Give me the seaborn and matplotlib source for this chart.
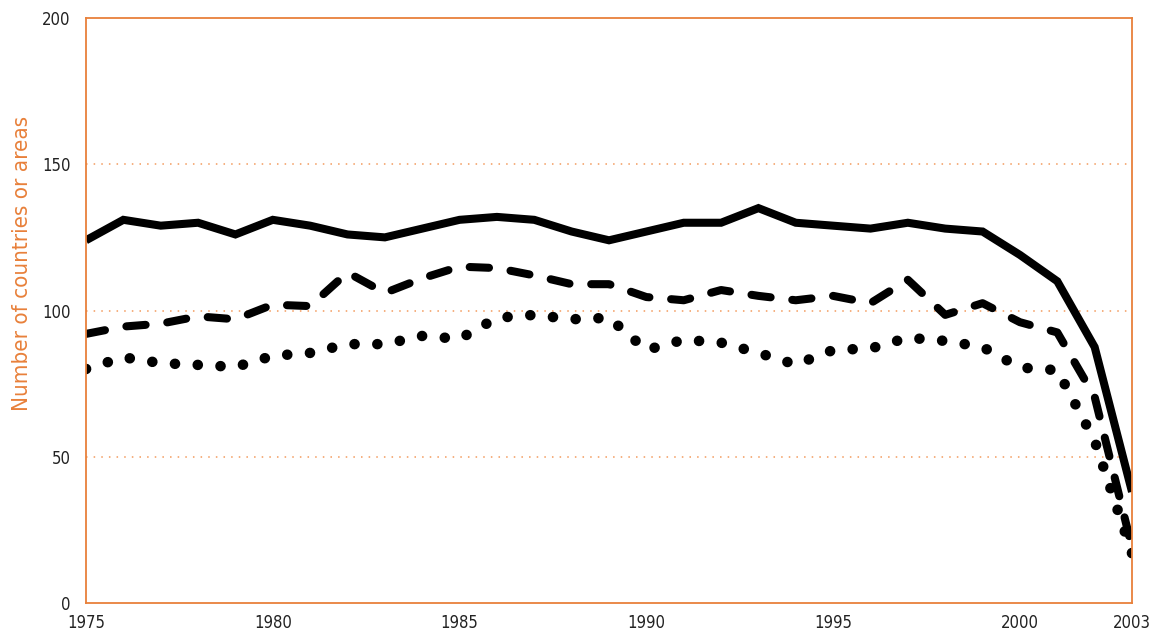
import matplotlib
matplotlib.use("Agg")
import matplotlib.pyplot as plt
import seaborn as sns
import pandas as pd
import numpy as np

years = list(range(1975, 2004))

solid_vals = [124, 131, 129, 130, 126, 131, 129, 126, 125, 128,
              131, 132, 131, 127, 124, 127, 130, 130, 135, 130,
              129, 128, 130, 128, 127, 119, 110, 87.5, 38]
dashed_vals = [92, 94.5, 95.5, 98, 97, 102, 101.5, 113, 106, 111,
               115, 114.5, 112, 109, 109, 104.6, 103.5, 107, 105, 103.5,
               105, 102.5, 110.5, 98.5, 102.5, 96, 92.5, 70.5, 19]
dotted_vals = [80, 84, 82, 81.4, 80.7, 84.5, 85.5, 88.5, 88.5, 91.3,
               90.3, 97.5, 98.5, 97, 97.5, 86.5, 90, 89, 85.5, 81.5,
               86.5, 87, 90.7, 89.6, 87.5, 80.5, 79.6, 55.5, 17]

xtick_labels = [1975, 1980, 1985, 1990, 1995, 2000, 2003]
ytick_vals = [0, 50, 100, 150, 200]

df = pd.DataFrame({"year": years, "solid": solid_vals,
                   "dashed": dashed_vals, "dotted": dotted_vals})

orange = "#e8803a"
light_orange = "#f2b487"

sns.set_style("white")
plt.rcParams["font.family"] = ["DejaVu Sans"]
plt.rcParams["font.stretch"] = "condensed"

fig = plt.figure(figsize=(11.49, 6.33), dpi=100)
ax = fig.add_axes([86 / 1149, 30 / 633, 1046 / 1149, 585 / 633])

lw = 5.8
sns.lineplot(data=df, x="year", y="solid", color="black", linewidth=lw,
             solid_joinstyle="miter", solid_capstyle="butt", ax=ax)
sns.lineplot(data=df, x="year", y="dashed", color="black", linewidth=lw,
             linestyle=(0, (2.4, 2.7)), dash_capstyle="round", ax=ax)
sns.lineplot(data=df, x="year", y="dotted", color="black", linewidth=7.6,
             linestyle=(0, (0.01, 2.15)), dash_capstyle="round", ax=ax)

ax.set_xlim(1975, 2003)
ax.set_ylim(0, 200)

# dotted gridlines
for v in [50, 100, 150]:
    ax.axhline(v, color="#f39a5c", linestyle=(0, (1, 4)), linewidth=1.1, zorder=0)

for sp in ax.spines.values():
    sp.set_color(orange)
    sp.set_linewidth(1.3)

ax.set_xticks(xtick_labels)
ax.set_xticklabels([str(t) for t in xtick_labels], fontsize=12)
ax.set_xticks(years[1:-1], minor=True)
ax.tick_params(axis="x", which="major", length=0, pad=8, colors="#222222")
ax.tick_params(axis="x", which="minor", direction="in", length=12, width=1.6,
               color=light_orange)
ax.set_yticks(ytick_vals)
ax.set_yticklabels([str(v) for v in ytick_vals], fontsize=12)
ax.tick_params(axis="y", length=0, pad=11, colors="#222222")

ax.set_xlabel("")
ax.set_ylabel("Number of countries or areas", color=orange, fontsize=16)
ax.yaxis.set_label_coords(-0.052, 0.581)

fig.savefig("out.png", dpi=100)
